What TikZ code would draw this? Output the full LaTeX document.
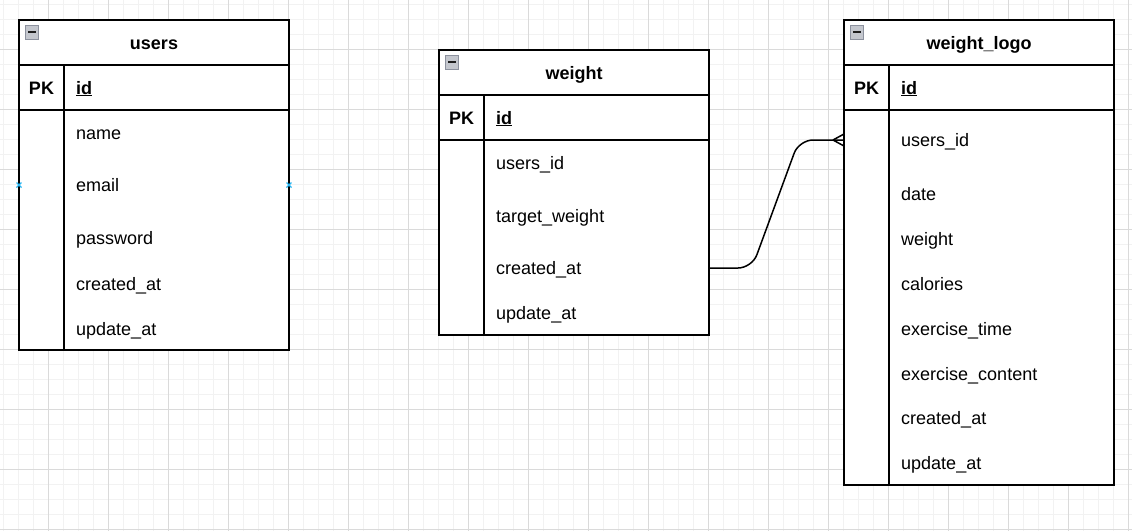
\documentclass[tikz,border=0pt]{standalone}
\usepackage{fontspec}
\setmainfont{Liberation Sans}
\begin{document}
\begin{tikzpicture}[x=1pt,y=-1pt,
  minorgrid/.style={draw={rgb,255:red,242;green,242;blue,242}, line width=1pt},
  majorgrid/.style={draw={rgb,255:red,218;green,218;blue,218}, line width=1pt},
  tbl/.style={draw=black, line width=1.5pt, fill=white},
  sep/.style={draw=black, line width=1.5pt},
  ttl/.style={font=\fontsize{18}{20}\selectfont\bfseries, anchor=base, inner sep=0pt},
  pk/.style={font=\fontsize{18}{20}\selectfont\bfseries, anchor=base, inner sep=0pt},
  fld/.style={font=\fontsize{18}{20}\selectfont, anchor=base west, inner sep=0pt},
  icon/.style={fill={rgb,255:red,196;green,199;blue,206}, draw={rgb,255:red,140;green,145;blue,158}, line width=1pt},
  iconbar/.style={draw={rgb,255:red,30;green,30;blue,30}, line width=1.8pt},
  conn/.style={draw=black, line width=1.5pt, line join=round},
  hovermark/.style={draw={rgb,255:red,41;green,182;blue,242}, line width=1.3pt}]
\useasboundingbox (0,0) rectangle (1132,531);
\fill[white] (0,0) rectangle (1132,531);
% grid
\foreach \x in {3,18,...,1131} \draw[minorgrid] (\x,0) -- (\x,531);
\foreach \y in {4,19,...,530} \draw[minorgrid] (0,\y) -- (1132,\y);
\foreach \x in {48,108,...,1131} \draw[majorgrid] (\x,0) -- (\x,531);
\foreach \y in {49,109,...,530} \draw[majorgrid] (0,\y) -- (1132,\y);

% ---------- users ----------
\draw[tbl] (19,20) rectangle (289,350);
\draw[sep] (19,65) -- (289,65);
\draw[sep, line width=1.8pt] (19,110) -- (289,110);
\draw[sep] (64,65) -- (64,350);
\draw[icon] (25,25.5) rectangle (38.5,39);
\draw[iconbar] (28,32.3) -- (35.5,32.3);
\node[ttl] (u-title) at (154,49) {users};
\node[pk] (u-pk) at (41.5,94) {PK};
\node[fld] (u-id) at (76,94) {\textbf{\underline{id}}};
\foreach \t/\y [count=\i] in {name/139, email/191, password/244, created\_at/290, update\_at/335}
  \node[fld] (u-f\i) at (76,\y) {\t};
\draw[hovermark] (16.5,182.5) -- (21.5,187.5) (16.5,187.5) -- (21.5,182.5);
\draw[hovermark] (286.5,182.5) -- (291.5,187.5) (286.5,187.5) -- (291.5,182.5);

% ---------- weight ----------
\draw[tbl] (439,50) rectangle (709,335);
\draw[sep] (439,95) -- (709,95);
\draw[sep, line width=1.8pt] (439,140) -- (709,140);
\draw[sep] (484,95) -- (484,335);
\draw[icon] (445,55.5) rectangle (458.5,69);
\draw[iconbar] (448,62.3) -- (455.5,62.3);
\node[ttl] (w-title) at (574,79) {weight};
\node[pk] (w-pk) at (461.5,124) {PK};
\node[fld] (w-id) at (496,124) {\textbf{\underline{id}}};
\foreach \t/\y [count=\i] in {users\_id/169, target\_weight/222, created\_at/274, update\_at/319}
  \node[fld] (w-f\i) at (496,\y) {\t};

% ---------- weight_logo ----------
\draw[tbl] (844,20) rectangle (1114,485);
\draw[sep] (844,65) -- (1114,65);
\draw[sep, line width=1.8pt] (844,110) -- (1114,110);
\draw[sep] (889,65) -- (889,485);
\draw[icon] (850,25.5) rectangle (863.5,39);
\draw[iconbar] (853,32.3) -- (860.5,32.3);
\node[ttl] (l-title) at (979,49) {weight\_logo};
\node[pk] (l-pk) at (866.5,94) {PK};
\node[fld] (l-id) at (901,94) {\textbf{\underline{id}}};
\foreach \t/\y [count=\i] in {users\_id/146, date/200, weight/245, calories/290, exercise\_time/335, exercise\_content/380, created\_at/424, update\_at/469}
  \node[fld] (l-f\i) at (901,\y) {\t};

% ---------- connector ----------
\coordinate (wc) at (709,268);
\coordinate (lu) at (844,140);
\coordinate (crow) at (833,140);
\coordinate (crowa) at (844,134);
\coordinate (crowb) at (844,146);
\draw[conn, rounded corners=14pt] (wc) -- (752,268) -- (799,140) -- (lu);
\draw[conn] (crow) -- (crowa) (crow) -- (crowb);
\end{tikzpicture}
\end{document}
